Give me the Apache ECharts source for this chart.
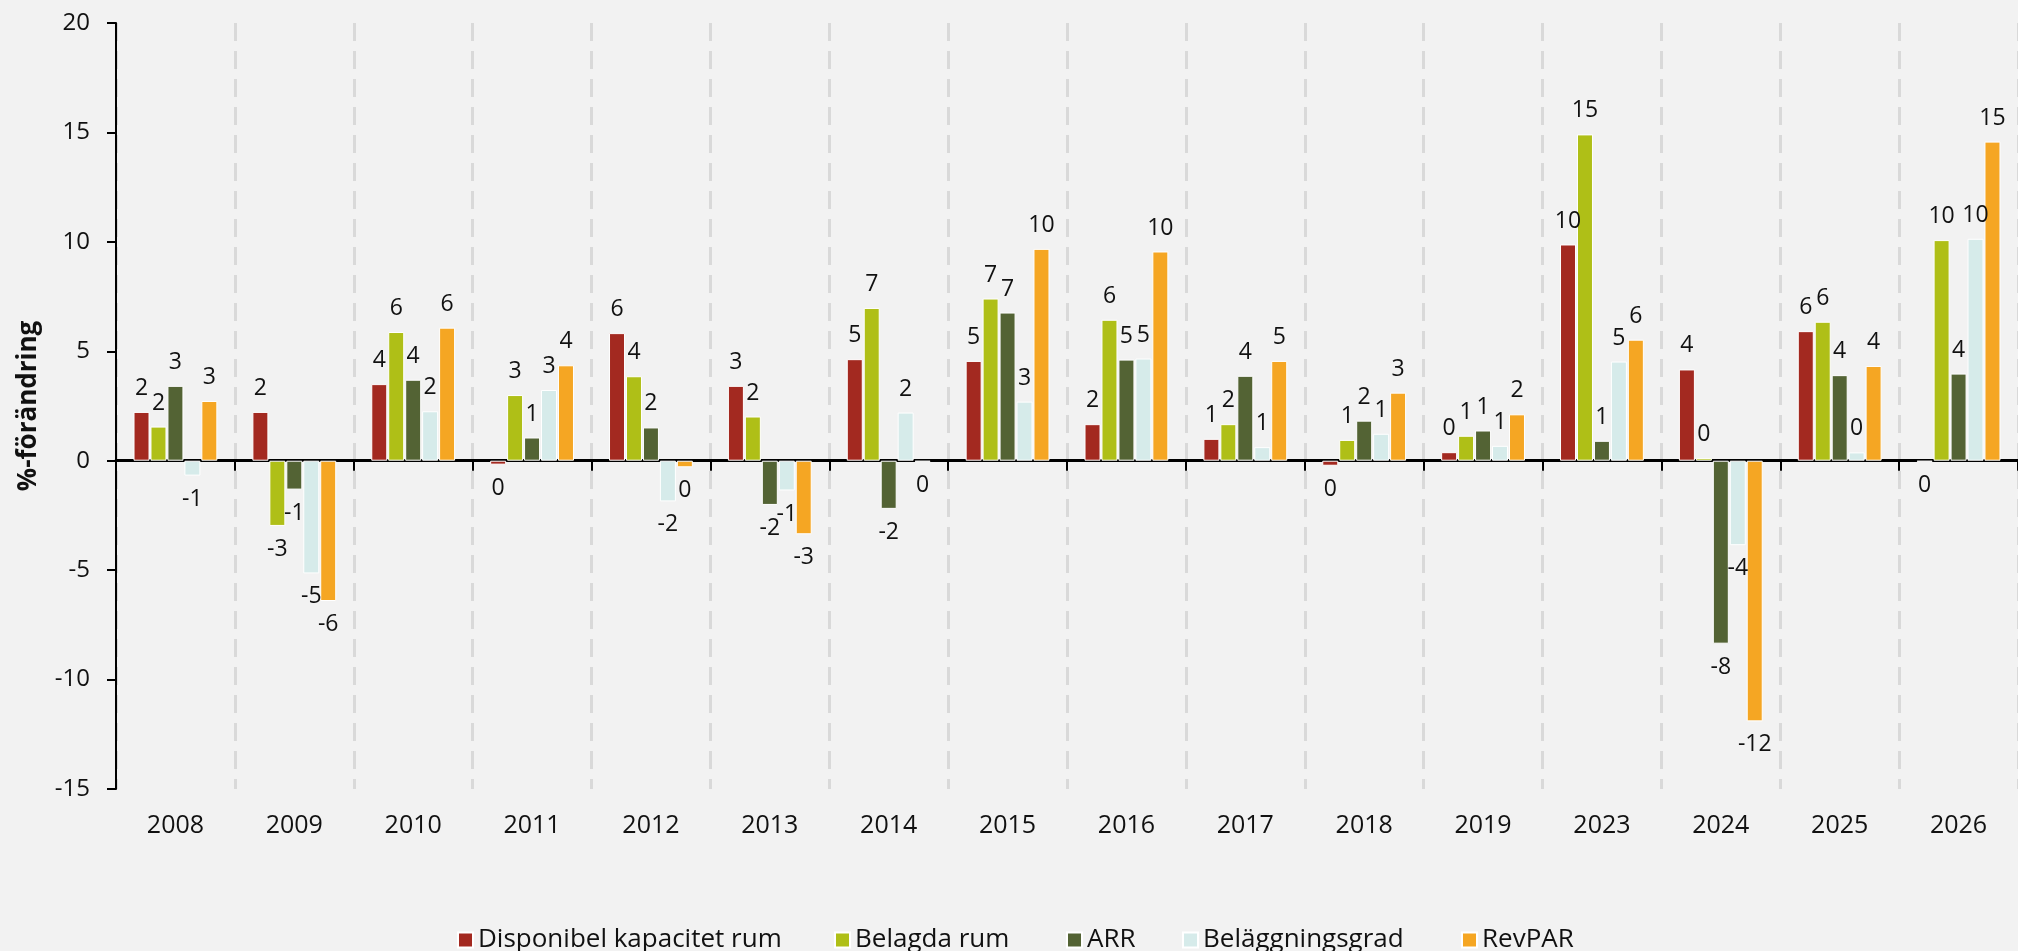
<!DOCTYPE html>
<html>
<head>
<meta charset="utf-8">
<script src="https://cdn.jsdelivr.net/npm/echarts@6/dist/echarts.min.js"></script>
<style>
  html, body { margin: 0; padding: 0; background: #f2f2f2; }
  #main { width: 2018px; height: 951px; }
</style>
</head>
<body>
<div id="main"></div>
<script>
// data
var years = ['2008', '2009', '2010', '2011', '2012', '2013', '2014', '2015', '2016', '2017', '2018', '2019', '2023', '2024', '2025', '2026'];
var disponibel = [2.23, 2.23, 3.5, -0.18, 5.83, 3.42, 4.64, 4.56, 1.67, 1.0, -0.23, 0.39, 9.88, 4.17, 5.92, -0.05];
var belagda = [1.56, -2.98, 5.88, 3.0, 3.86, 2.02, 6.98, 7.41, 6.44, 1.67, 0.95, 1.14, 14.91, 0.12, 6.35, 10.08];
var arr = [3.42, -1.32, 3.70, 1.06, 1.52, -2.02, -2.2, 6.77, 4.62, 3.88, 1.83, 1.38, 0.91, -8.36, 3.91, 3.98];
var belaggning = [-0.68, -5.15, 2.26, 3.23, -1.86, -1.36, 2.2, 2.70, 4.67, 0.62, 1.23, 0.68, 4.53, -3.86, 0.38, 10.14];
var revpar = [2.73, -6.41, 6.08, 4.36, -0.30, -3.36, -0.05, 9.68, 9.56, 4.56, 3.11, 2.12, 5.53, -11.91, 4.33, 14.58];
var yTicks = { min: -15, max: 20, interval: 5 };

var names = ['Disponibel kapacitet rum', 'Belagda rum', 'ARR', 'Beläggningsgrad', 'RevPAR'];
var colors = ['#a32920', '#afbf17', '#536334', '#d6ebea', '#f5a623'];
var values = [disponibel, belagda, arr, belaggning, revpar];
var legendLeft = [452, 829, 1061, 1177, 1456];

var font = 'Open Sans';

var myChart = echarts.init(document.getElementById('main'));

// negative bars get their label below the bar
function withLabels(list) {
  return list.map(function (v) {
    return { value: v, label: { position: v < 0 ? 'bottom' : 'top' } };
  });
}

var series = names.map(function (n, i) {
  return {
    name: n,
    type: 'bar',
    xAxisIndex: 0,
    barWidth: 16,
    barGap: '6%',
    itemStyle: { color: colors[i], borderColor: '#ffffff', borderWidth: 1 },
    label: {
      show: true,
      distance: 12,
      color: '#111',
      fontFamily: font,
      fontSize: 23,
      formatter: function (p) { return String(Math.round(p.value)); }
    },
    data: withLabels(values[i])
  };
});

var legends = names.map(function (n, i) {
  return {
    data: [n],
    left: legendLeft[i],
    top: 922,
    itemWidth: 15,
    itemHeight: 15,
    itemGap: 8,
    icon: 'rect',
    textStyle: { fontFamily: font, fontSize: 26, color: '#111' }
  };
});

var option = {
  backgroundColor: '#f2f2f2',
  animation: false,
  legend: legends,
  grid: { left: 116, top: 23, width: 1917, height: 766 },
  xAxis: [
    {
      type: 'category',
      data: years,
      position: 'bottom',
      axisLine: { show: false, onZero: false },
      axisTick: { show: false },
      axisLabel: { margin: 24, color: '#111', fontFamily: font, fontSize: 25 },
      splitLine: { show: true, lineStyle: { color: '#d9d9d9', width: 3, type: [18, 10] } }
    },
    {
      type: 'category',
      data: years,
      position: 'bottom',
      axisLine: { show: true, onZero: true, lineStyle: { color: '#000', width: 3 } },
      axisTick: { show: true, length: 10, lineStyle: { color: '#000', width: 2 } },
      axisLabel: { show: false },
      splitLine: { show: false }
    }
  ],
  yAxis: {
    type: 'value',
    min: yTicks.min,
    max: yTicks.max,
    interval: yTicks.interval,
    name: '%-förändring',
    nameLocation: 'middle',
    nameGap: 74,
    nameTextStyle: { fontFamily: font, fontSize: 26, fontWeight: 'bold', color: '#111' },
    axisLine: { show: true, lineStyle: { color: '#000', width: 2 } },
    axisTick: { show: true, length: 9, lineStyle: { color: '#000', width: 2 } },
    axisLabel: { margin: 26, color: '#111', fontFamily: font, fontSize: 24 },
    splitLine: { show: false }
  },
  series: series
};

myChart.setOption(option);
window.onresize = function () {
  myChart.resize();
};
</script>
</body>
</html>
